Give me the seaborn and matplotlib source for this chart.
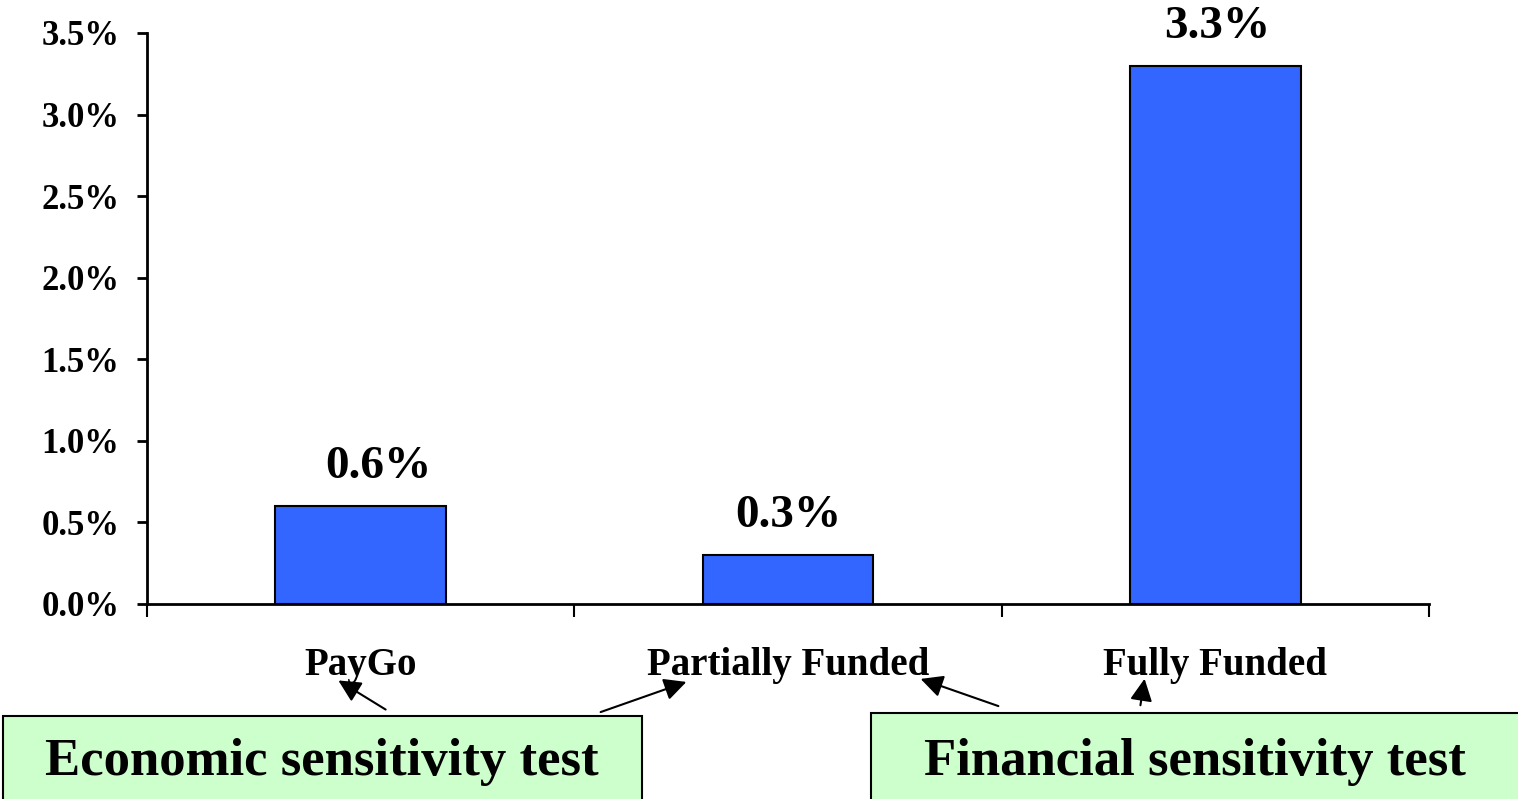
import numpy as np
import pandas as pd
import matplotlib
matplotlib.use("Agg")
from matplotlib import pyplot as plt
from matplotlib.patches import Rectangle, FancyArrowPatch
from matplotlib.ticker import FuncFormatter
import seaborn as sns

# data
schemes = ["PayGo", "Partially Funded", "Fully Funded"]
cost_pct = [0.6, 0.3, 3.3]
value_labels = ["0.6%", "0.3%", "3.3%"]
yticks = [0.0, 0.5, 1.0, 1.5, 2.0, 2.5, 3.0, 3.5]

df = pd.DataFrame({"scheme": schemes, "cost": cost_pct})

sns.set_theme(style="ticks")
plt.rcParams["font.family"] = ["Liberation Serif", "DejaVu Serif"]
plt.rcParams["font.weight"] = "bold"
plt.rcParams["text.color"] = "black"
plt.rcParams["xtick.color"] = "black"
plt.rcParams["ytick.color"] = "black"

W, H = 1518, 799
fig = plt.figure(figsize=(W / 100, H / 100), dpi=100)
fig.patch.set_facecolor("white")
ax = fig.add_axes([147 / W, 1 - 604 / H, (1429 - 147) / W, (604 - 33) / H])

sns.barplot(data=df, x="scheme", y="cost", color="#3366FF", saturation=1,
            width=0.4, edgecolor="black", linewidth=1.5, ax=ax)

ax.set_xlim(-0.5, 2.5)
ax.set_ylim(0, 3.5)
ax.set_yticks(yticks)
ax.yaxis.set_major_formatter(FuncFormatter(lambda v, p: f"{v:.1f}%"))
ax.tick_params(axis="y", direction="out", length=7, width=2, labelsize=25,
               pad=13, labelcolor="black")
for t in ax.get_yticklabels():
    t.set_fontweight("bold")

# category labels at centers, tick marks at boundaries
ax.set_xticks(range(len(schemes)))
ax.set_xticklabels(schemes, fontsize=28, fontweight="bold", color="black")
ax.tick_params(axis="x", which="major", length=0, pad=31)
ax.set_xticks([-0.5, 0.5, 1.5, 2.5], minor=True)
ax.tick_params(axis="x", which="minor", direction="out", length=9, width=1.5)

ax.set_xlabel("")
ax.set_ylabel("")
sns.despine(ax=ax, top=True, right=True)
for s in ["left", "bottom"]:
    ax.spines[s].set_linewidth(2)
    ax.spines[s].set_color("black")
ax.grid(False)
ax.set_facecolor("white")

label_dx = [13, 0, 1]
for i, (v, lab) in enumerate(zip(cost_pct, value_labels)):
    ax.annotate(lab, xy=(i, v), xytext=(label_dx[i], 20), textcoords="offset points",
                ha="center", va="baseline", fontsize=34, fontweight="bold",
                color="black")

# green callout boxes
def fpt(x, y):
    return (x / W, 1 - y / H)

boxes = [
    ((3, 716), 639, "Economic sensitivity test", 322),
    ((871, 713), 660, "Financial sensitivity test", 1195),
]
for (x0, y0), bw, txt, cx in boxes:
    fig.add_artist(Rectangle(fpt(x0, H + 5), bw / W, (H + 5 - y0) / H,
                             transform=fig.transFigure, facecolor="#CCFFCC",
                             edgecolor="black", linewidth=1.5, clip_on=False))
    fig.text(cx / W, 1 - 762 / H, txt, ha="center", va="center",
             fontsize=38, fontweight="bold", color="black")

arrows = [
    ((388, 711), (336, 679)),
    ((598, 713), (689, 681)),
    ((1001, 707), (918, 678)),
    ((1140, 708), (1145, 676)),
]
for start, end in arrows:
    fig.add_artist(FancyArrowPatch(
        fpt(*start), fpt(*end), transform=fig.transFigure,
        arrowstyle="-|>,head_length=9,head_width=4.5", mutation_scale=1.5,
        color="black", linewidth=1.5))

fig.savefig("out.png", dpi=100, facecolor="white")
